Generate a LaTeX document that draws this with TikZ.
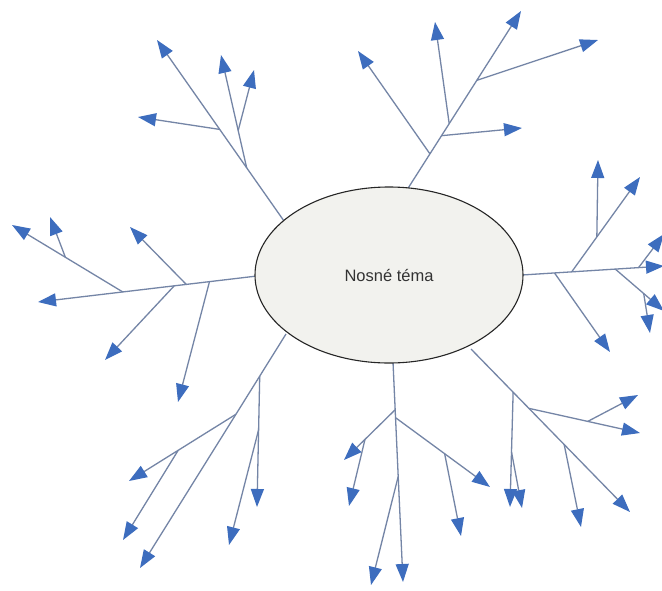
\documentclass[tikz,border=0pt]{standalone}
\usepackage{fontspec}
\setmainfont{Liberation Sans}
\usetikzlibrary{arrows.meta,shapes.geometric,calc}
\definecolor{linec}{HTML}{7485A6}
\definecolor{arrc}{HTML}{3D6DBE}
\definecolor{elfill}{HTML}{F2F2EE}
\tikzset{
  br/.style={draw=linec, line width=1.3pt},
  arr/.style={br, -{Triangle[length=18pt,width=13pt,color=arrc]}},
  topic/.style={ellipse, draw=black!85, line width=1.1pt, fill=elfill,
    minimum width=268pt, minimum height=176pt, inner sep=0pt,
    font=\fontsize{16.5}{19}\selectfont, text=black!80}
}
\begin{document}
\begin{tikzpicture}[x=1pt,y=-1pt]
\useasboundingbox (0,0) rectangle (662,590);
\clip (0,0) rectangle (662,590);
\fill[white] (0,0) rectangle (662,590);

% ---------- left branch ----------
\coordinate (Ls) at (257,276);
\coordinate (Lt) at (38,302);
\coordinate (L1) at ($(Ls)!0.217!(Lt)$);
\coordinate (L2) at ($(Ls)!0.323!(Lt)$);
\coordinate (L3) at ($(Ls)!0.378!(Lt)$);
\coordinate (L4) at ($(Ls)!0.613!(Lt)$);
\coordinate (L1t) at (178,402);
\coordinate (L2t) at (130,227);
\coordinate (L3t) at (105,360);
\coordinate (L4t) at (12,225);
\coordinate (L4a) at ($(L4)!0.518!(L4t)$);
\coordinate (L4at) at (50,217);
\draw[arr] (Ls) -- (Lt);
\draw[arr] (L1) -- (L1t);
\draw[arr] (L2) -- (L2t);
\draw[arr] (L3) -- (L3t);
\draw[arr] (L4) -- (L4t);
\draw[arr] (L4a) -- (L4at);

% ---------- upper-left branch ----------
\coordinate (Us) at (284,221);
\coordinate (Ut) at (157,40);
\coordinate (U1) at ($(Us)!0.294!(Ut)$);
\coordinate (U2) at ($(Us)!0.506!(Ut)$);
\coordinate (U1t) at (221,55);
\coordinate (U1a) at ($(U1)!0.33!(U1t)$);
\coordinate (U1at) at (254,70);
\coordinate (U2t) at (138,117);
\draw[arr] (Us) -- (Ut);
\draw[arr] (U1) -- (U1t);
\draw[arr] (U1a) -- (U1at);
\draw[arr] (U2) -- (U2t);

% ---------- top branch ----------
\coordinate (Ts) at (405,193);
\coordinate (Tt) at (521,11);
\coordinate (T1) at ($(Ts)!0.215!(Tt)$);
\coordinate (T2) at ($(Ts)!0.315!(Tt)$);
\coordinate (T3) at ($(Ts)!0.381!(Tt)$);
\coordinate (T4) at ($(Ts)!0.619!(Tt)$);
\coordinate (T1t) at (358,51);
\coordinate (T2t) at (522,128);
\coordinate (T3t) at (435,22);
\coordinate (T4t) at (598,40);
\draw[arr] (Ts) -- (Tt);
\draw[arr] (T1) -- (T1t);
\draw[arr] (T2) -- (T2t);
\draw[arr] (T3) -- (T3t);
\draw[arr] (T4) -- (T4t);

% ---------- right branch ----------
\coordinate (Rs) at (522,275);
\coordinate (Rt) at (664,266);
\coordinate (R1) at ($(Rs)!0.229!(Rt)$);
\coordinate (R2) at ($(Rs)!0.35!(Rt)$);
\coordinate (R3) at ($(Rs)!0.657!(Rt)$);
\coordinate (R4) at ($(Rs)!0.821!(Rt)$);
\coordinate (R1t) at (610,352);
\coordinate (R2t) at (640,177);
\coordinate (R2a) at ($(R2)!0.368!(R2t)$);
\coordinate (R2at) at (598,160);
\coordinate (R3t) at (664,311);
\coordinate (R3a) at ($(R3)!0.583!(R3t)$);
\coordinate (R3at) at (650,333);
\coordinate (R4t) at (664,234);
\draw[arr] (Rs) -- (Rt);
\draw[arr] (R1) -- (R1t);
\draw[arr] (R2) -- (R2t);
\draw[arr] (R2a) -- (R2at);
\draw[arr] (R3) -- (R3t);
\draw[arr] (R3a) -- (R3at);
\draw[arr] (R4) -- (R4t);

% ---------- lower-left branch ----------
\coordinate (Ds) at (286,334);
\coordinate (Dt) at (140,568);
\coordinate (D1) at ($(Ds)!0.18!(Dt)$);
\coordinate (D2) at ($(Ds)!0.343!(Dt)$);
\coordinate (D1t) at (257,507);
\coordinate (D1a) at ($(D1)!0.41!(D1t)$);
\coordinate (D1at) at (229,545);
\coordinate (D2t) at (129,481);
\coordinate (D2a) at ($(D2)!0.54!(D2t)$);
\coordinate (D2at) at (123,540);
\draw[arr] (Ds) -- (Dt);
\draw[arr] (D1) -- (D1t);
\draw[arr] (D1a) -- (D1at);
\draw[arr] (D2) -- (D2t);
\draw[arr] (D2a) -- (D2at);

% ---------- bottom branch ----------
\coordinate (Bs) at (393,362);
\coordinate (Bt) at (403,582);
\coordinate (B1) at ($(Bs)!0.217!(Bt)$);
\coordinate (B2) at ($(Bs)!0.253!(Bt)$);
\coordinate (B3) at ($(Bs)!0.52!(Bt)$);
\coordinate (B1t) at (344,460);
\coordinate (B1a) at ($(B1)!0.59!(B1t)$);
\coordinate (B1at) at (349,506);
\coordinate (B2t) at (490,487);
\coordinate (B2a) at ($(B2)!0.52!(B2t)$);
\coordinate (B2at) at (461,536);
\coordinate (B3t) at (371,585);
\draw[arr] (Bs) -- (Bt);
\draw[arr] (B1) -- (B1t);
\draw[arr] (B1a) -- (B1at);
\draw[arr] (B2) -- (B2t);
\draw[arr] (B2a) -- (B2at);
\draw[arr] (B3) -- (B3t);

% ---------- lower-right branch ----------
\coordinate (Qs) at (471,349);
\coordinate (Qt) at (630,512);
\coordinate (Q1) at ($(Qs)!0.265!(Qt)$);
\coordinate (Q2) at ($(Qs)!0.364!(Qt)$);
\coordinate (Q3) at ($(Qs)!0.586!(Qt)$);
\coordinate (Q1t) at (510,507);
\coordinate (Q1a) at ($(Q1)!0.52!(Q1t)$);
\coordinate (Q1at) at (522,508);
\coordinate (Q2t) at (640,433);
\coordinate (Q2a) at ($(Q2)!0.53!(Q2t)$);
\coordinate (Q2at) at (638,395);
\coordinate (Q3t) at (581,527);
\draw[arr] (Qs) -- (Qt);
\draw[arr] (Q1) -- (Q1t);
\draw[arr] (Q1a) -- (Q1at);
\draw[arr] (Q2) -- (Q2t);
\draw[arr] (Q2a) -- (Q2at);
\draw[arr] (Q3) -- (Q3t);

% ---------- central topic ----------
\node[topic] (E) at (389,275) {Nosné téma};
\end{tikzpicture}
\end{document}
